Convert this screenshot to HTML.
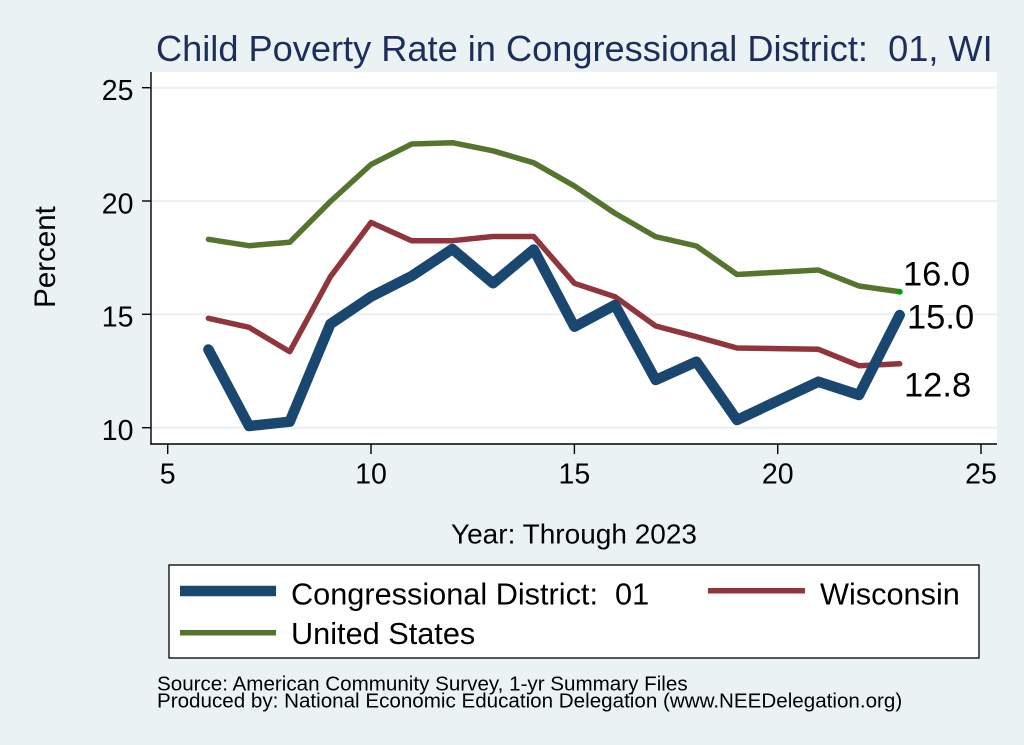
<!DOCTYPE html>
<html><head><meta charset="utf-8"><style>
html,body{margin:0;padding:0;background:#EAF2F3;}
svg{display:block;font-family:"Liberation Sans",Arial,sans-serif;}
.pre{white-space:pre;}
</style></head><body>
<svg width="1024" height="745" viewBox="0 0 1024 745" xmlns="http://www.w3.org/2000/svg">
<rect x="0" y="0" width="1024" height="745" fill="#EAF2F3"/>
<text class="pre" x="156" y="61" font-size="36.2" fill="#1C2E5B">Child Poverty Rate in Congressional District:  01, WI</text>
<rect x="151" y="72" width="846" height="372" fill="#FFFFFF"/>
<g stroke="#EAF2F3" stroke-width="2.2">
<line x1="151" y1="87.7" x2="997" y2="87.7"/>
<line x1="151" y1="201" x2="997" y2="201"/>
<line x1="151" y1="314.3" x2="997" y2="314.3"/>
<line x1="151" y1="427.7" x2="997" y2="427.7"/>
</g>
<g stroke="#000" stroke-width="1.4">
<line x1="151" y1="72" x2="151" y2="444.7"/>
<line x1="150.3" y1="444" x2="997" y2="444"/>
<line x1="142" y1="87.7" x2="151" y2="87.7"/>
<line x1="142" y1="201" x2="151" y2="201"/>
<line x1="142" y1="314.3" x2="151" y2="314.3"/>
<line x1="142" y1="427.7" x2="151" y2="427.7"/>
<line x1="167.7" y1="444" x2="167.7" y2="454"/>
<line x1="371" y1="444" x2="371" y2="454"/>
<line x1="574.4" y1="444" x2="574.4" y2="454"/>
<line x1="777.7" y1="444" x2="777.7" y2="454"/>
<line x1="981" y1="444" x2="981" y2="454"/>
</g>
<g font-size="28.5" fill="#000" text-anchor="end">
<text x="133.5" y="100">25</text>
<text x="133.5" y="213.3">20</text>
<text x="133.5" y="326.6">15</text>
<text x="133.5" y="440">10</text>
</g>
<g font-size="28.5" fill="#000" text-anchor="middle">
<text x="167.7" y="483.3">5</text>
<text x="371" y="483.3">10</text>
<text x="574.4" y="483.3">15</text>
<text x="777.7" y="483.3">20</text>
<text x="981" y="483.3">25</text>
</g>
<text x="574" y="543.3" font-size="28" text-anchor="middle" fill="#000">Year: Through 2023</text>
<text transform="translate(55,257) rotate(-90)" font-size="29.5" text-anchor="middle" fill="#000">Percent</text>
<g fill="none" stroke-linejoin="round" stroke-linecap="round">
<polyline stroke="#55752F" stroke-width="5.5" points="208.4,239.3 249,245.7 289.7,242.3 330.4,201.5 371,164.5 411.7,144 452.4,142.7 493,150.8 533.7,162.8 574.4,186 615,213.3 655.7,236.7 696.4,246 737,274.5 818.4,270 859,286 899.7,291.7"/>
<polyline stroke="#90353B" stroke-width="5.5" points="208.4,318.3 249,327.3 289.7,351.7 330.4,276.7 371,222.5 411.7,240.7 452.4,240.7 493,236.5 533.7,236.5 574.4,283.3 615,296.7 655.7,326 696.4,336.7 737,348 818.4,349.3 859,365.7 899.7,363.8"/>
<polyline stroke="#1A476F" stroke-width="10.5" points="208.4,349.5 249,426 289.7,421.7 330.4,324 371,296.7 411.7,276 452.4,249 493,283.3 533.7,249.5 574.4,326.7 615,305 655.7,380 696.4,361.7 737,420 818.4,381.7 859,395 899.7,315"/>
</g>
<circle cx="899.7" cy="291.7" r="3" fill="#00A000"/>
<g font-size="34.5" fill="#000">
<text x="903" y="285.7">16.0</text>
<text x="907" y="328.3">15.0</text>
<text x="904" y="396.7">12.8</text>
</g>
<rect x="169" y="565" width="810" height="93" fill="#FFFFFF" stroke="#000" stroke-width="1.3"/>
<line x1="180" y1="591" x2="276" y2="591" stroke="#1A476F" stroke-width="10.5"/>
<line x1="180" y1="632.7" x2="276" y2="632.7" stroke="#55752F" stroke-width="5.5"/>
<line x1="708" y1="590.7" x2="805" y2="590.7" stroke="#90353B" stroke-width="5.5"/>
<g font-size="30.7" fill="#000">
<text class="pre" x="291" y="604.3">Congressional District:  01</text>
<text x="820" y="604.3">Wisconsin</text>
<text x="291" y="644">United States</text>
</g>
<g font-size="20.6" fill="#000">
<text x="157" y="690.5">Source: American Community Survey, 1-yr Summary Files</text>
<text x="157" y="707.3">Produced by: National Economic Education Delegation (www.NEEDelegation.org)</text>
</g>
</svg>
</body></html>
